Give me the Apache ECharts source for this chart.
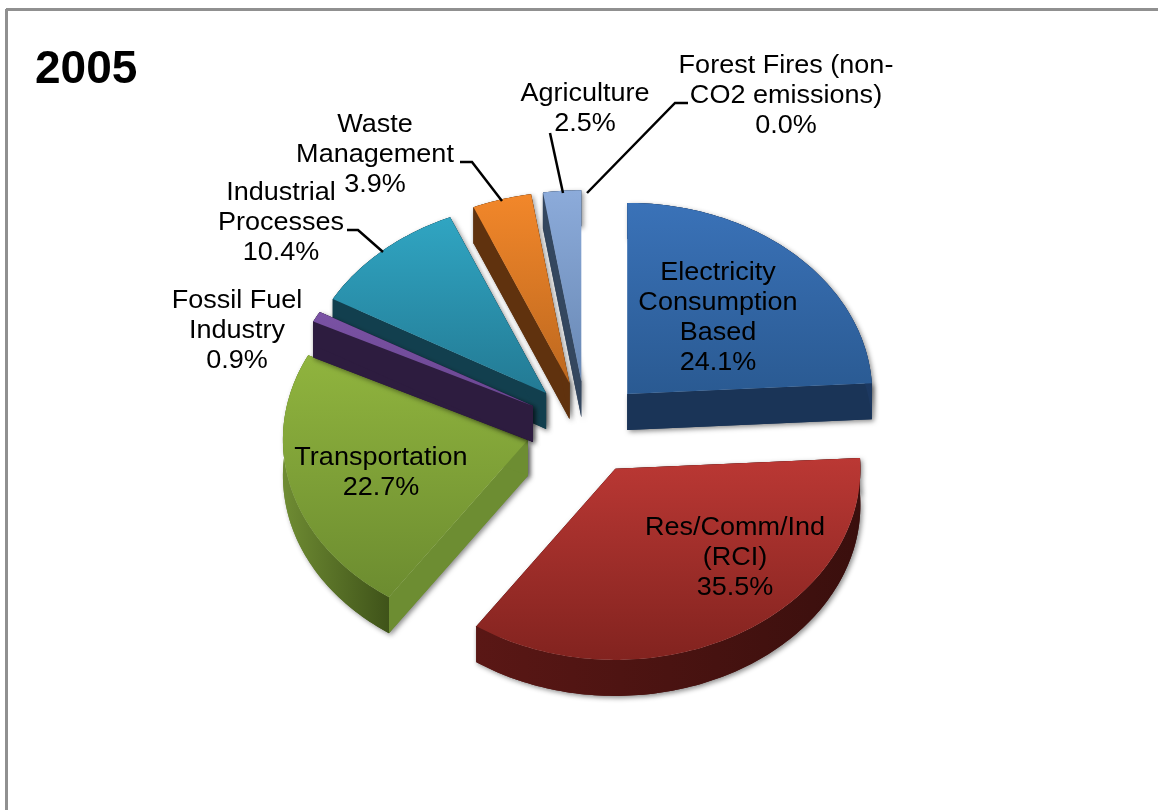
<!DOCTYPE html>
<html>
<head>
<meta charset="utf-8">
<style>html,body{margin:0;padding:0;background:#fff}#c{width:1158px;height:810px}</style>
<script src="https://cdn.jsdelivr.net/npm/echarts@6/dist/echarts.min.js"></script>
</head>
<body>
<div id="c"></div>
<script>
const titleText = '2005';
const categories = ['Electricity\nConsumption\nBased','Res/Comm/Ind\n(RCI)','Transportation','Fossil Fuel\nIndustry','Industrial\nProcesses','Waste\nManagement','Agriculture','Forest Fires (non-\nCO2 emissions)'];
const shares = [24.1,35.5,22.7,0.9,10.4,3.9,2.5,0.0];
const topColors = [['#3a72b8','#2a5a92'],['#bb3834','#82231f'],['#90b43e','#6c8c30'],['#7a52a4','#6a4792'],['#30a5c2','#237a94'],['#f2872a','#bd681f'],['#8cabda','#6888b4'],['#ffffff','#ffffff']];
const edgeColors = ['#1a3457','#5a1715','#6d8d32','#2d1c3f','#123f4e','#60320e','#34475f','#ffffff'];
const wallColors = [['#1a3457','#1c3860'],['#5a1715','#3a0f0d'],['#6f8c33','#3f5319'],['#2d1c3f','#2d1c3f'],['#123f4e','#123f4e'],['#60320e','#60320e'],['#34475f','#34475f'],['#ffffff','#ffffff']];
const drawOrder = [7,6,5,4,2,3,0,1];
// Pie projection and label placement
const pie = {cx:586, cy:428, rx:245, tilt:0.78, explode:60, depth:36};
const labelSpots = [[718,318],[735,558],[381,473],[237,331],[281,223],[375,155],[585,109],[786,96]];
const leaderLines = [
  [[460,162],[472,162],[502,201]],
  [[347,230],[358,230],[383,252]],
  [[550,133],[563,193]],
  [[688,103],[675,103],[587,193]]
];

const starts = [];
shares.reduce((sum,v,i)=>{starts[i]=sum;return sum+v;},0);
const total = shares.reduce((a,b)=>a+b,0);
const toAngle = p => p/total*Math.PI*2;

function sliceShapes(i){
  const a1=toAngle(starts[i]), a2=toAngle(starts[i]+shares[i]), mid=(a1+a2)/2;
  const ox=pie.cx+pie.explode*Math.sin(mid), oy=pie.cy-pie.explode*pie.tilt*Math.cos(mid);
  const pt=(a,r,d)=>[ox+r*Math.sin(a), oy-pie.tilt*r*Math.cos(a)+(d||0)];
  const rim=[], n=Math.max(1,Math.ceil((a2-a1)/0.02));
  for(let k=0;k<=n;k++) rim.push(a1+(a2-a1)*k/n);
  const shadow={shadowBlur:5,shadowColor:'rgba(0,0,0,0.45)',shadowOffsetX:2,shadowOffsetY:2};
  const grad=(c,h)=>h?new echarts.graphic.LinearGradient(0,0,1,0,[{offset:0,color:c[0]},{offset:1,color:c[1]}])
                     :new echarts.graphic.LinearGradient(0,0,0,1,[{offset:0,color:c[0]},{offset:1,color:c[1]}]);
  const faces=extra=>{
    const radial=a=>({type:'polygon',shape:{points:[pt(a,0),pt(a,pie.rx),pt(a,pie.rx,pie.depth),pt(a,0,pie.depth)]},
      style:Object.assign({fill:edgeColors[i]},extra)});
    return [radial(a1),radial(a2),
      {type:'polygon',shape:{points:rim.map(a=>pt(a,pie.rx)).concat(rim.slice().reverse().map(a=>pt(a,pie.rx,pie.depth)))},
       style:Object.assign({fill:grad(wallColors[i],true)},extra)}];
  };
  const out=faces(shadow).concat(faces({}));
  out.push({type:'polygon',shape:{points:[pt(a1,0)].concat(rim.map(a=>pt(a,pie.rx)))},
    style:{fill:grad(topColors[i],false),stroke:shares[i]===0?'#fff':null,lineWidth:shares[i]===0?3:0}});
  return out;
}

const chart = echarts.init(document.getElementById('c'),null,{renderer:'canvas'});
chart.setOption({
  animation:false,
  backgroundColor:'#fff',
  title:{text:titleText,left:30,top:42,textStyle:{fontFamily:'Liberation Sans',fontSize:46,fontWeight:'bold',color:'#000'}},
  graphic:[
    {type:'line',shape:{x1:6,y1:9.5,x2:1158,y2:9.5},style:{stroke:'#909090',lineWidth:3}},
    {type:'line',shape:{x1:6.5,y1:9,x2:6.5,y2:810},style:{stroke:'#909090',lineWidth:3}}
  ],
  series:[
    {type:'custom',coordinateSystem:'none',z:2,silent:true,
     data:drawOrder.map(i=>[i,shares[i]]),
     renderItem:(params,api)=>({type:'group',children:sliceShapes(api.value(0))})},
    {type:'custom',coordinateSystem:'none',z:3,silent:true,
     data:leaderLines.map((l,i)=>[i]),
     renderItem:(params,api)=>({type:'polyline',shape:{points:leaderLines[api.value(0)]},
       style:{fill:null,stroke:'#000',lineWidth:2.5}})},
    {type:'custom',coordinateSystem:'none',z:4,silent:true,
     data:categories.map((c,i)=>[i,shares[i]]),
     renderItem:(params,api)=>{
       const i=api.value(0);
       return {type:'text',x:labelSpots[i][0],y:labelSpots[i][1],scaleX:1.06,
         style:{text:categories[i]+'\n'+api.value(1).toFixed(1)+'%',textAlign:'center',textVerticalAlign:'middle',
           fontFamily:'Liberation Sans',fontSize:25.5,lineHeight:30.3,fill:'#000'}};
     }}
  ]
});
</script>
</body>
</html>
